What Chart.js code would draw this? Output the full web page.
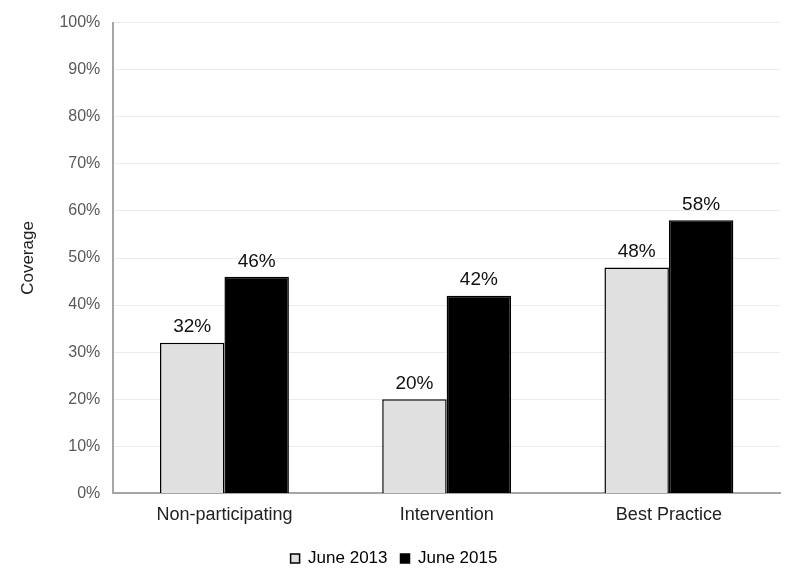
<!DOCTYPE html>
<html>
<head>
<meta charset="utf-8">
<script src="https://cdn.jsdelivr.net/npm/chart.js@4"></script>
<style>
  html, body { margin: 0; padding: 0; background: #ffffff; }
  #wrap { width: 800px; height: 583px; }
</style>
</head>
<body>
<div id="wrap"><canvas id="coverageChart" width="800" height="583"></canvas></div>
<script>
// chart values
const categories = ["Non-participating", "Intervention", "Best Practice"];
const june2013 = [32, 20, 48];
const june2015 = [46, 42, 58];
const seriesNames = ["June 2013", "June 2015"];
const yTicks = [0, 10, 20, 30, 40, 50, 60, 70, 80, 90, 100];

const fontFamily = "'Liberation Sans', Arial, sans-serif";

// small plugin to write the value above every bar
const barValueLabels = {
    id: "barValueLabels",
    afterDatasetsDraw(chart) {
        const ctx = chart.ctx;
        ctx.save();
        ctx.font = "19px " + fontFamily;
        ctx.fillStyle = "#111111";
        ctx.textAlign = "center";
        ctx.textBaseline = "bottom";
        chart.data.datasets.forEach((ds, i) => {
            chart.getDatasetMeta(i).data.forEach((bar, j) => {
                ctx.fillText(ds.data[j] + "%", bar.x, bar.y - 6);
            });
        });
        ctx.restore();
    }
};

const config = {
    type: "bar",
    data: {
        labels: categories,
        datasets: [
            {
                label: seriesNames[0],
                data: june2013,
                backgroundColor: "#e0e0e0",
                borderColor: "#000000",
                borderWidth: 1.5,
                borderSkipped: "bottom"
            },
            {
                label: seriesNames[1],
                data: june2015,
                backgroundColor: "#000000",
                borderColor: "#000000",
                borderWidth: 1.5,
                borderSkipped: "bottom"
            }
        ]
    },
    options: {
        responsive: false,
        animation: false,
        devicePixelRatio: 1,
        layout: { padding: { left: 8, right: 20, top: 13, bottom: 6 } },
        datasets: {
            bar: { barPercentage: 1.0, categoryPercentage: 0.58 }
        },
        scales: {
            x: {
                grid: { display: false, drawTicks: false },
                border: { color: "#a6a6a6", width: 2 },
                ticks: {
                    padding: 11,
                    color: "#222222",
                    font: { size: 18, family: fontFamily }
                }
            },
            y: {
                min: 0,
                max: 100,
                afterBuildTicks: (axis) => { axis.ticks = yTicks.map(v => ({ value: v })); },
                grid: { color: "#ececec", lineWidth: 1, drawTicks: false },
                border: { color: "#a6a6a6", width: 2 },
                ticks: {
                    padding: 13,
                    color: "#595959",
                    font: { size: 16, family: fontFamily },
                    callback: v => v + "%"
                },
                title: {
                    display: true,
                    text: "Coverage",
                    color: "#222222",
                    padding: { top: 10, bottom: 8 },
                    font: { size: 17, family: fontFamily }
                }
            }
        },
        plugins: {
            legend: {
                position: "bottom",
                labels: {
                    boxWidth: 9,
                    boxHeight: 9,
                    padding: 13,
                    color: "#222222",
                    font: { size: 17, family: fontFamily },
                    generateLabels: (chart) => chart.data.datasets.map((ds, i) => ({
                        text: ds.label,
                        fillStyle: ds.backgroundColor,
                        strokeStyle: "#000000",
                        lineWidth: 1.5,
                        datasetIndex: i
                    }))
                }
            },
            tooltip: { enabled: false }
        }
    },
    plugins: [barValueLabels]
};

new Chart("coverageChart", config);
</script>
</body>
</html>
